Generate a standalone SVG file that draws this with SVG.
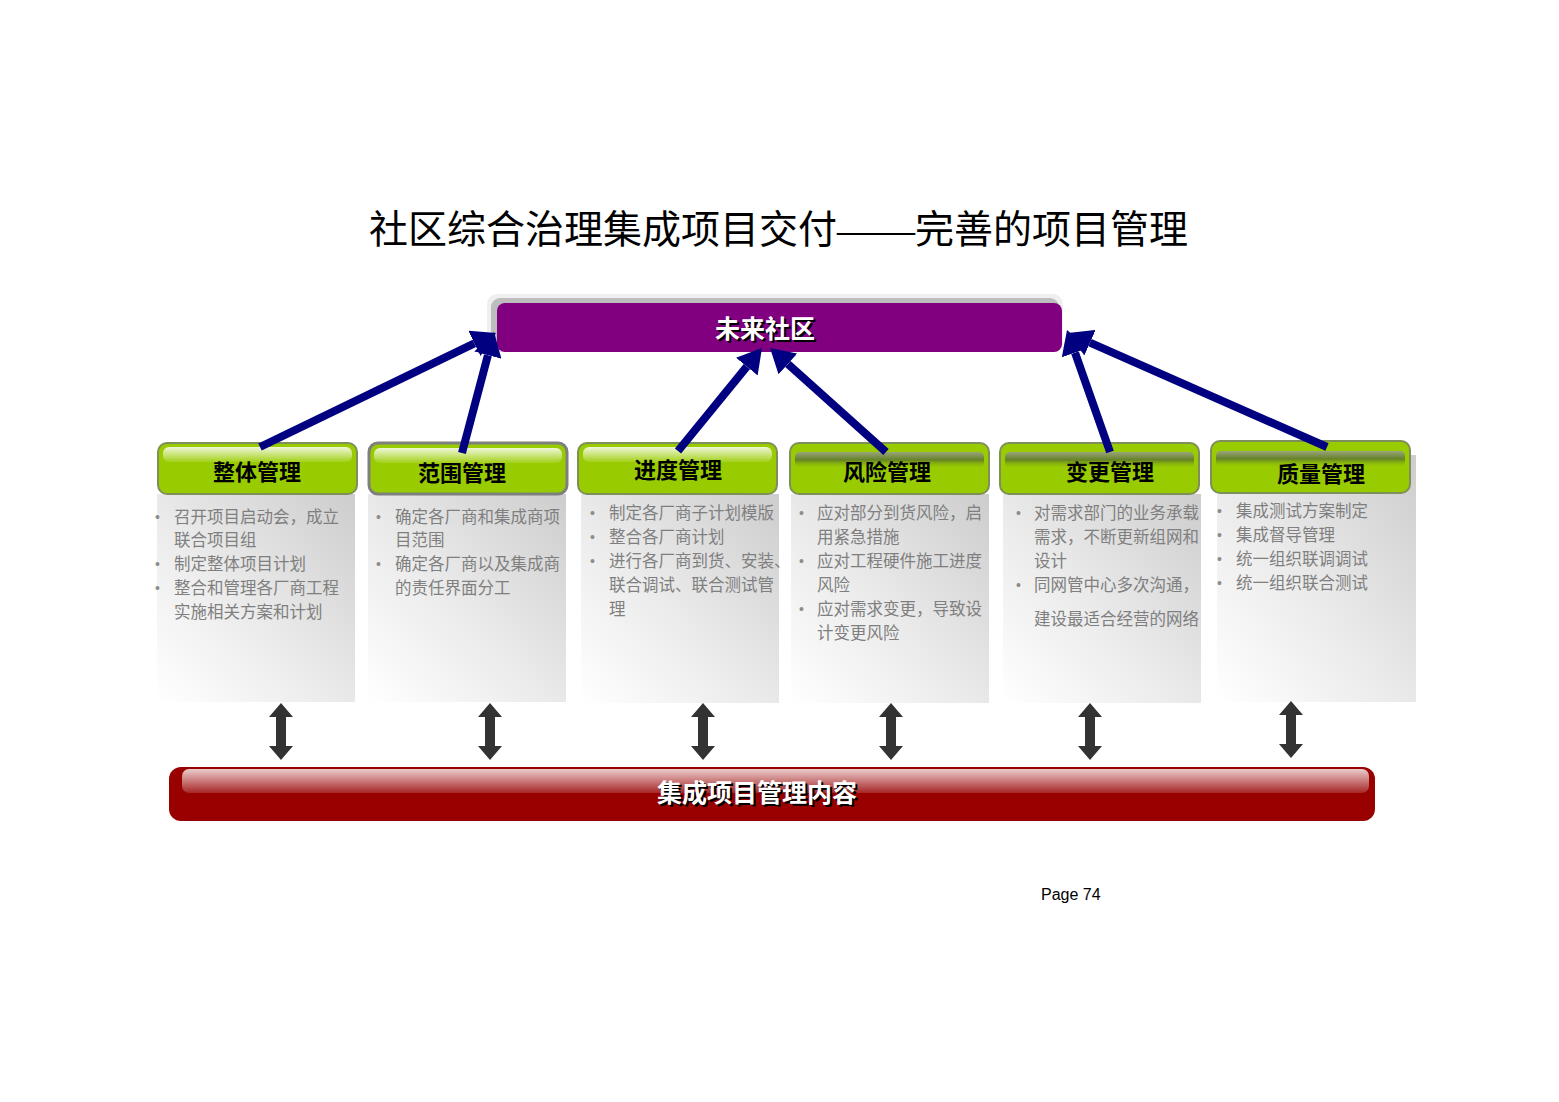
<svg xmlns="http://www.w3.org/2000/svg" xmlns:xlink="http://www.w3.org/1999/xlink" width="1559" height="1102" viewBox="0 0 1559 1102">
<defs>
<style>
.title{font-family:"Liberation Serif","Noto Sans CJK SC",serif;font-size:39px;fill:#000}
.hdr{font-family:"Noto Sans CJK SC","Liberation Sans",sans-serif;font-size:22px;font-weight:bold;fill:#000;text-anchor:middle}
.big{font-family:"Noto Sans CJK SC","Liberation Sans",sans-serif;font-weight:bold;text-anchor:middle}
.sh{fill:#000}
.wt{fill:#fff}
.body{font-family:"Noto Sans CJK SC","Liberation Sans",sans-serif;font-size:16.5px;fill:#7f7f7f}
.blt{font-family:"Liberation Sans",sans-serif;font-size:14px;fill:#8c8c8c}
.page{font-family:"Liberation Sans",Arial,sans-serif;font-size:16px;fill:#000}
.gbox{fill:#99cc00;stroke:#7f8f5a;stroke-width:2}
.panel{fill:url(#pg)}
.conn{stroke:#000080;stroke-width:8;fill:none;marker-end:url(#ah)}
.dbl{fill:#333333}
</style>
<linearGradient id="pg" x1="1" y1="0" x2="0" y2="1">
<stop offset="0" stop-color="#cdcdcd"/>
<stop offset="0.55" stop-color="#ebebeb"/>
<stop offset="1" stop-color="#ffffff"/>
</linearGradient>
<linearGradient id="hiW" x1="0" y1="0" x2="0" y2="1">
<stop offset="0" stop-color="#ffffff" stop-opacity="0.85"/>
<stop offset="1" stop-color="#ffffff" stop-opacity="0.1"/>
</linearGradient>
<linearGradient id="hiD" x1="0" y1="0" x2="0" y2="1">
<stop offset="0" stop-color="#9aa08a" stop-opacity="0.9"/>
<stop offset="0.5" stop-color="#5f7a2a" stop-opacity="0.9"/>
<stop offset="1" stop-color="#99cc00" stop-opacity="0.2"/>
</linearGradient>
<linearGradient id="redHi" x1="0" y1="0" x2="0" y2="1">
<stop offset="0" stop-color="#ffffff" stop-opacity="0.8"/>
<stop offset="1" stop-color="#ffffff" stop-opacity="0.15"/>
</linearGradient>
<marker id="ah" viewBox="0 0 24 28" refX="0" refY="14" markerWidth="24" markerHeight="28" markerUnits="userSpaceOnUse" orient="auto">
<path d="M0,0 L24,14 L0,28 Z" fill="#000080"/>
</marker>
<path id="dblArrow" d="M0,0 L12,14 L5,14 L5,43 L12,43 L0,57 L-12,43 L-5,43 L-5,14 L-12,14 Z"/>
</defs>

<rect width="1559" height="1102" fill="#ffffff"/>

<text class="title" x="369" y="243">社区综合治理集成项目交付——完善的项目管理</text>

<!-- top node -->
<g id="node-future">
<rect x="487" y="294" width="576" height="58" rx="10" fill="#efefef"/>
<rect x="491" y="298" width="568" height="52" rx="9" fill="#bdbdbd"/>
<rect x="497" y="303" width="565" height="49" rx="8" fill="#800080"/>
<text class="big sh" x="767" y="340" font-size="25">未来社区</text>
<text class="big wt" x="765" y="338" font-size="25">未来社区</text>
</g>

<!-- panels -->
<g id="panels">
<rect class="panel" x="157" y="494" width="198" height="208"/>
<rect class="panel" x="368" y="494" width="198" height="208"/>
<rect class="panel" x="581" y="494" width="198" height="209"/>
<rect class="panel" x="791" y="494" width="198" height="209"/>
<rect class="panel" x="1003" y="494" width="198" height="209"/>
<rect class="panel" x="1217" y="455" width="199" height="247"/>
</g>

<!-- header nodes -->
<g id="node-overall">
<rect class="gbox" x="158" y="443" width="199" height="51" rx="9"/>
<rect x="163" y="447" width="189" height="15" rx="6" fill="url(#hiW)"/>
<text class="hdr" x="257" y="480">整体管理</text>
<text class="blt" x="155" y="522">•</text>
<text class="body" x="174" y="523">召开项目启动会，成立</text>
<text class="body" x="174" y="546">联合项目组</text>
<text class="blt" x="155" y="569">•</text>
<text class="body" x="174" y="570">制定整体项目计划</text>
<text class="blt" x="155" y="593">•</text>
<text class="body" x="174" y="594">整合和管理各厂商工程</text>
<text class="body" x="174" y="618">实施相关方案和计划</text>
</g>

<g id="node-scope">
<rect x="369" y="443" width="198" height="51" rx="9" fill="#99cc00" stroke="#7f7f7f" stroke-width="3"/>
<rect x="374" y="448" width="188" height="15" rx="6" fill="url(#hiW)"/>
<text class="hdr" x="462" y="481">范围管理</text>
<text class="blt" x="376" y="522">•</text>
<text class="body" x="395" y="523">确定各厂商和集成商项</text>
<text class="body" x="395" y="546">目范围</text>
<text class="blt" x="376" y="569">•</text>
<text class="body" x="395" y="570">确定各厂商以及集成商</text>
<text class="body" x="395" y="594">的责任界面分工</text>
</g>

<g id="node-schedule">
<rect class="gbox" x="578" y="443" width="199" height="51" rx="9"/>
<rect x="583" y="447" width="189" height="15" rx="6" fill="url(#hiW)"/>
<text class="hdr" x="678" y="478">进度管理</text>
<text class="blt" x="590" y="518">•</text>
<text class="body" x="609" y="519">制定各厂商子计划模版</text>
<text class="blt" x="590" y="542">•</text>
<text class="body" x="609" y="543">整合各厂商计划</text>
<text class="blt" x="590" y="566">•</text>
<text class="body" x="609" y="567">进行各厂商到货、安装、</text>
<text class="body" x="609" y="591">联合调试、联合测试管</text>
<text class="body" x="609" y="615">理</text>
</g>

<g id="node-risk">
<rect class="gbox" x="790" y="443" width="199" height="51" rx="9"/>
<rect x="795" y="452" width="189" height="16" rx="5" fill="url(#hiD)"/>
<text class="hdr" x="887" y="480">风险管理</text>
<text class="blt" x="799" y="518">•</text>
<text class="body" x="817" y="519">应对部分到货风险，启</text>
<text class="body" x="817" y="543">用紧急措施</text>
<text class="blt" x="799" y="566">•</text>
<text class="body" x="817" y="567">应对工程硬件施工进度</text>
<text class="body" x="817" y="591">风险</text>
<text class="blt" x="799" y="614">•</text>
<text class="body" x="817" y="615">应对需求变更，导致设</text>
<text class="body" x="817" y="639">计变更风险</text>
</g>

<g id="node-change">
<rect class="gbox" x="1000" y="443" width="199" height="51" rx="9"/>
<rect x="1005" y="452" width="189" height="16" rx="5" fill="url(#hiD)"/>
<text class="hdr" x="1110" y="480">变更管理</text>
<text class="blt" x="1016" y="518">•</text>
<text class="body" x="1034" y="519">对需求部门的业务承载</text>
<text class="body" x="1034" y="543">需求，不断更新组网和</text>
<text class="body" x="1034" y="567">设计</text>
<text class="blt" x="1016" y="590">•</text>
<text class="body" x="1034" y="591">同网管中心多次沟通，</text>
<text class="body" x="1034" y="625">建设最适合经营的网络</text>
</g>

<g id="node-quality">
<rect class="gbox" x="1211" y="441" width="199" height="52" rx="9"/>
<rect x="1216" y="451" width="189" height="16" rx="5" fill="url(#hiD)"/>
<text class="hdr" x="1321" y="482">质量管理</text>
<text class="blt" x="1217" y="516">•</text>
<text class="body" x="1236" y="517">集成测试方案制定</text>
<text class="blt" x="1217" y="540">•</text>
<text class="body" x="1236" y="541">集成督导管理</text>
<text class="blt" x="1217" y="564">•</text>
<text class="body" x="1236" y="565">统一组织联调调试</text>
<text class="blt" x="1217" y="588">•</text>
<text class="body" x="1236" y="589">统一组织联合测试</text>
</g>

<!-- bottom node -->
<g id="node-content">
<rect x="169" y="767" width="1206" height="54" rx="12" fill="#990000"/>
<rect x="182" y="769" width="1187" height="24" rx="7" fill="url(#redHi)"/>
<text class="big sh" x="759" y="804" font-size="25">集成项目管理内容</text>
<text class="big wt" x="757" y="802" font-size="25">集成项目管理内容</text>
</g>

<!-- connectors -->
<g id="connectors">
<line class="conn" x1="260" y1="447" x2="474.4" y2="343.4"/>
<line class="conn" x1="462" y1="453" x2="487.9" y2="355.2"/>
<line class="conn" x1="678" y1="451" x2="746.8" y2="366.6"/>
<line class="conn" x1="886" y1="452" x2="787.9" y2="364"/>
<line class="conn" x1="1110" y1="452" x2="1075" y2="352.6"/>
<line class="conn" x1="1327" y1="447" x2="1090" y2="342.7"/>
<use class="dbl" href="#dblArrow" x="281" y="703"/>
<use class="dbl" href="#dblArrow" x="490" y="703"/>
<use class="dbl" href="#dblArrow" x="703" y="703"/>
<use class="dbl" href="#dblArrow" x="891" y="703"/>
<use class="dbl" href="#dblArrow" x="1090" y="703"/>
<use class="dbl" href="#dblArrow" x="1291" y="701"/>
</g>

<text class="page" x="1041" y="900">Page 74</text>
</svg>
